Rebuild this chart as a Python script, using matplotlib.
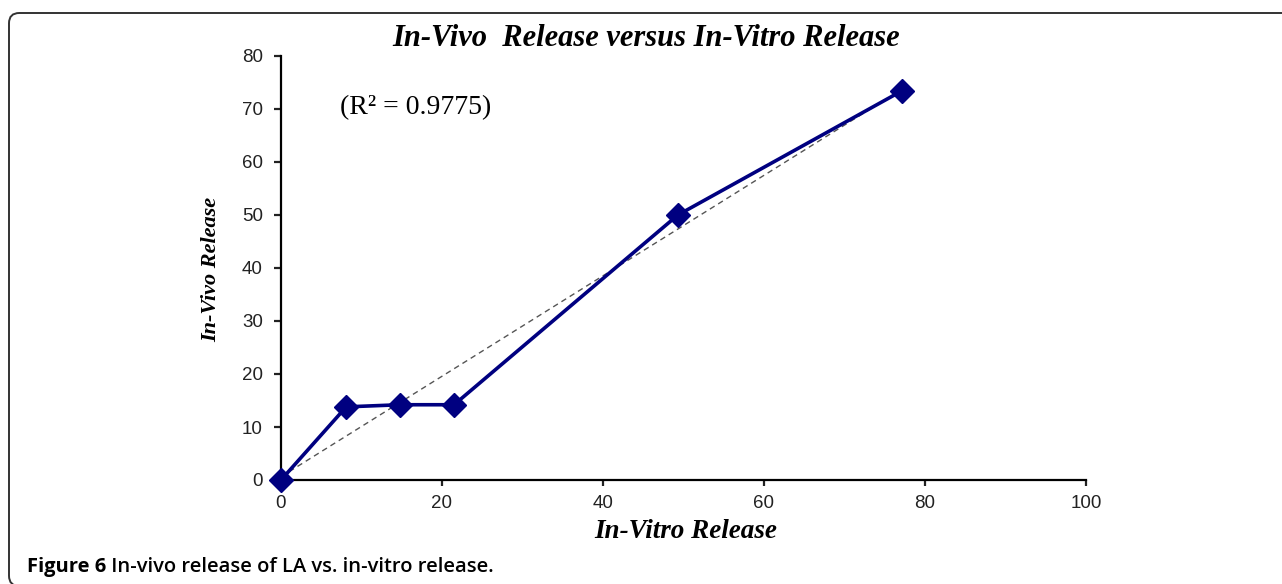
import numpy as np
import matplotlib.pyplot as plt
from matplotlib.patches import FancyBboxPatch

# Data
in_vitro = [0, 8.1, 14.8, 21.5, 49.3, 77.1]
in_vivo = [0, 13.8, 14.2, 14.2, 50.0, 73.4]
x_ticks = [0, 20, 40, 60, 80, 100]
y_ticks = [0, 10, 20, 30, 40, 50, 60, 70, 80]

navy = "#000080"
serif = "Liberation Serif"

fig = plt.figure(figsize=(12.82, 5.84), dpi=100)

# rounded frame around the figure (runs off the right edge)
frame = FancyBboxPatch((9 / 1282, -2 / 584), 1.2, 1 - 11 / 584,
                       boxstyle="round,pad=0,rounding_size=0.008",
                       transform=fig.transFigure, fill=False,
                       edgecolor="#333333", linewidth=1.4,
                       mutation_aspect=1282 / 584)
fig.patches.append(frame)

ax = fig.add_axes([281 / 1282, 1 - 480 / 584, 805 / 1282, 424 / 584])

# linear trendline
slope, intercept = np.polyfit(in_vitro, in_vivo, 1)
xt = np.array([0, in_vitro[-1]])
ax.plot(xt, slope * xt + intercept, color="#555555", linestyle=(0, (4, 3)),
        linewidth=1.0, zorder=2)

ax.plot(in_vitro, in_vivo, color=navy, linewidth=2.6, marker="D",
        markersize=12, markerfacecolor=navy, markeredgecolor=navy,
        zorder=3, clip_on=False)

ax.set_xlim(0, 100)
ax.set_ylim(0, 80)
ax.set_xticks(x_ticks)
ax.set_yticks(y_ticks)
for s in ["top", "right"]:
    ax.spines[s].set_visible(False)
for s in ["left", "bottom"]:
    ax.spines[s].set_linewidth(1.6)
ax.tick_params(axis="both", labelsize=13.5, width=1.6, length=5,
               colors="#222222", direction="out")
ax.tick_params(axis="x", pad=7, length=4)
ax.tick_params(axis="y", pad=8)
for lab in ax.get_xticklabels() + ax.get_yticklabels():
    lab.set_fontfamily("Liberation Sans")

fig.text(646 / 1282, 1 - 38 / 584, "In-Vivo  Release versus In-Vitro Release",
         ha="center", va="center", fontsize=22, fontweight="bold",
         fontstyle="italic", family=serif)
fig.text(686 / 1282, 1 - 532 / 584, "In-Vitro Release", ha="center",
         va="center", fontsize=19.5, fontweight="bold", fontstyle="italic",
         family=serif)
fig.text(211 / 1282, 1 - 269 / 584, "In-Vivo Release", ha="center",
         va="center", rotation=90, fontsize=16, fontweight="bold",
         fontstyle="italic", family=serif)
ax.text(7.3, 70.3, "(R² = 0.9775)", ha="left", va="center", fontsize=20,
        family=serif)

cap = fig.text(27 / 1282, 1 - 567 / 584, "Figure 6", ha="left", va="center",
               fontsize=14.5, fontweight="bold", family="Open Sans")
ax.annotate(" In-vivo release of LA vs. in-vitro release.", xy=(1, 0.5),
            xycoords=cap, ha="left", va="center", fontsize=14.5,
            fontweight="semibold", family="Open Sans", annotation_clip=False)

fig.savefig("out.png", dpi=100)
